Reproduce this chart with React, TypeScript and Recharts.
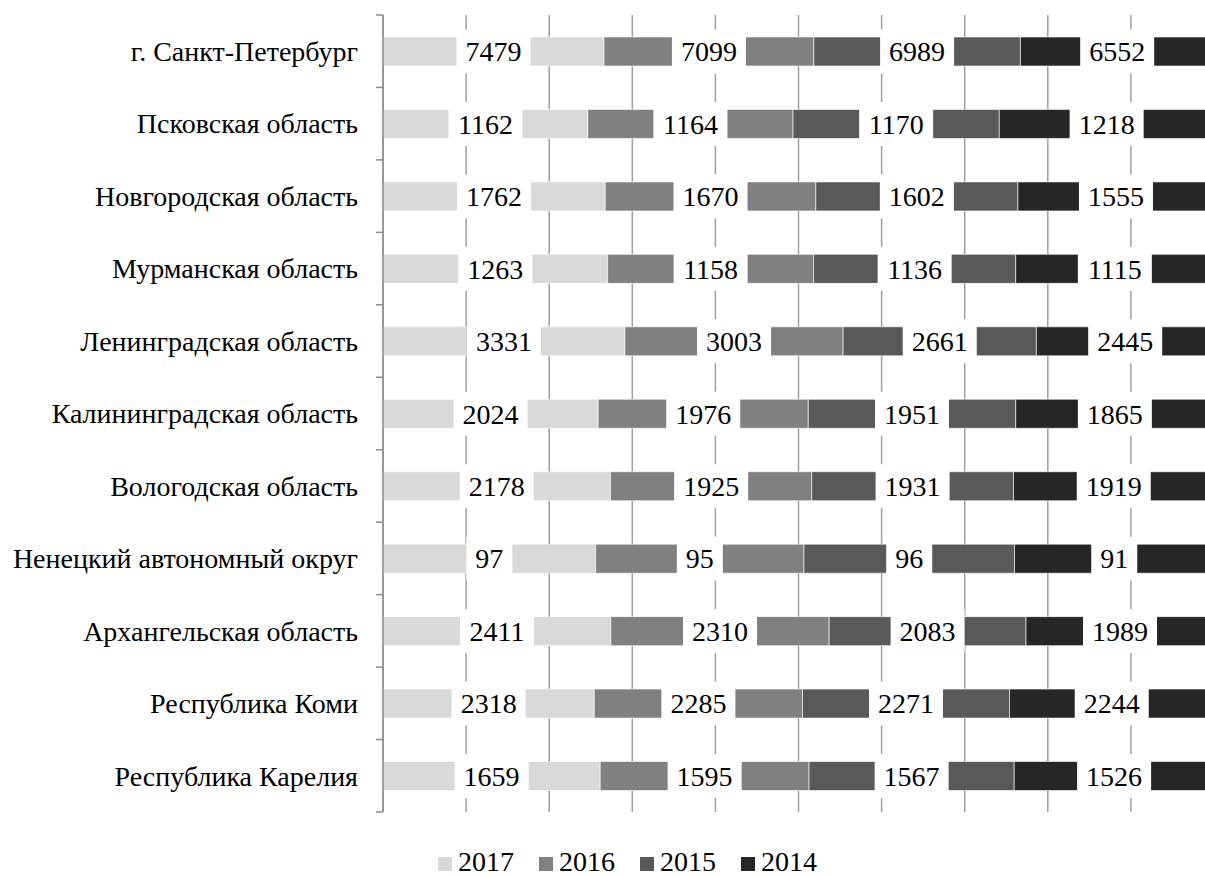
import React from "react"
import { Bar, BarChart, CartesianGrid, LabelList, Legend, XAxis, YAxis } from "recharts"

const categories = [
  "г. Санкт-Петербург",
  "Псковская область",
  "Новгородская область",
  "Мурманская область",
  "Ленинградская область",
  "Калининградская область",
  "Вологодская область",
  "Ненецкий автономный округ",
  "Архангельская область",
  "Республика Коми",
  "Республика Карелия",
]

const values2017 = [7479, 1162, 1762, 1263, 3331, 2024, 2178, 97, 2411, 2318, 1659]
const values2016 = [7099, 1164, 1670, 1158, 3003, 1976, 1925, 95, 2310, 2285, 1595]
const values2015 = [6989, 1170, 1602, 1136, 2661, 1951, 1931, 96, 2083, 2271, 1567]
const values2014 = [6552, 1218, 1555, 1115, 2445, 1865, 1919, 91, 1989, 2244, 1526]

const seriesKeys = ["y2017", "y2016", "y2015", "y2014"]
const seriesNames = ["2017", "2016", "2015", "2014"]
const seriesColors = ["#d9d9d9", "#808080", "#595959", "#262626"]

const percentTicks = [0, 0.1, 0.2, 0.3, 0.4, 0.5, 0.6, 0.7, 0.8, 0.9, 1]

const data = categories.map((name, i) => ({
  name,
  y2017: values2017[i],
  y2016: values2016[i],
  y2015: values2015[i],
  y2014: values2014[i],
}))

const FONT = "'Liberation Serif', 'Times New Roman', serif"
const CHART_W = 1214
const CHART_H = 877
const TOP = 15
const LEGEND_H = 65
const BAND = (CHART_H - TOP - LEGEND_H) / categories.length
const AXIS_COLOR = "#8c8c8c"

function CategoryTick(props: any) {
  const { x, y, payload, index } = props
  const half = BAND / 2
  return (
    <g>
      <text x={x - 25} y={y} dy="0.35em" textAnchor="end" fontSize={28} fontFamily={FONT} fill="#000">
        {payload.value}
      </text>
      <line x1={x - 7} x2={x} y1={y - half} y2={y - half} stroke={AXIS_COLOR} strokeWidth={1.5} />
      {index === categories.length - 1 && (
        <line x1={x - 7} x2={x} y1={y + half} y2={y + half} stroke={AXIS_COLOR} strokeWidth={1.5} />
      )}
    </g>
  )
}

function ValueLabel(props: any) {
  const { x, y, width, height, value } = props
  const cx = Number(x) + Number(width) / 2
  const cy = Number(y) + Number(height) / 2
  const w = String(value).length * 14 + 18
  return (
    <g>
      <rect x={cx - w / 2} y={cy - 22} width={w} height={44} fill="#ffffff" />
      <text x={cx} y={cy} dy="0.35em" textAnchor="middle" fontSize={28} fontFamily={FONT} fill="#000">
        {value}
      </text>
    </g>
  )
}

function ChartLegend() {
  return (
    <div style={{ height: LEGEND_H, position: "relative", fontFamily: FONT, fontSize: 28, lineHeight: "28px" }}>
      <div style={{ position: "absolute", top: 36, left: 438, display: "flex", alignItems: "center" }}>
        {seriesNames.map((n, i) => (
          <div key={n} style={{ display: "flex", alignItems: "center", marginRight: 25 }}>
            <span style={{ display: "inline-block", width: 14, height: 14, background: seriesColors[i], marginRight: 6, marginTop: 3 }} />
            <span style={{ color: "#000" }}>{n}</span>
          </div>
        ))}
      </div>
    </div>
  )
}

export default function App() {
  return (
    <div style={{ position: "absolute", left: 0, top: 0, width: 1205, height: CHART_H, overflow: "hidden", background: "#fff" }}>
      <BarChart
        width={CHART_W}
        height={CHART_H}
        data={data}
        layout="vertical"
        stackOffset="expand"
        barSize={29}
        margin={{ top: TOP, right: 0, bottom: 0, left: 0 }}
      >
        <CartesianGrid horizontal={false} stroke="#9e9e9e" strokeWidth={1.5} />
        <XAxis type="number" domain={[0, 1]} ticks={percentTicks} hide />
        <YAxis
          type="category"
          dataKey="name"
          width={383}
          tickSize={0}
          tickMargin={0}
          tickLine={false}
          axisLine={{ stroke: AXIS_COLOR, strokeWidth: 1.5 }}
          tick={(p: any) => <CategoryTick {...p} />}
          interval={0}
        />
        <Legend verticalAlign="bottom" content={() => <ChartLegend />} />
        {seriesKeys.map((k, i) => (
          <Bar key={k} dataKey={k} name={seriesNames[i]} stackId="a" fill={seriesColors[i]} stroke="#ffffff" strokeWidth={0.6} isAnimationActive={false}>
            <LabelList dataKey={k} content={(p: any) => <ValueLabel {...p} />} />
          </Bar>
        ))}
      </BarChart>
    </div>
  )
}
